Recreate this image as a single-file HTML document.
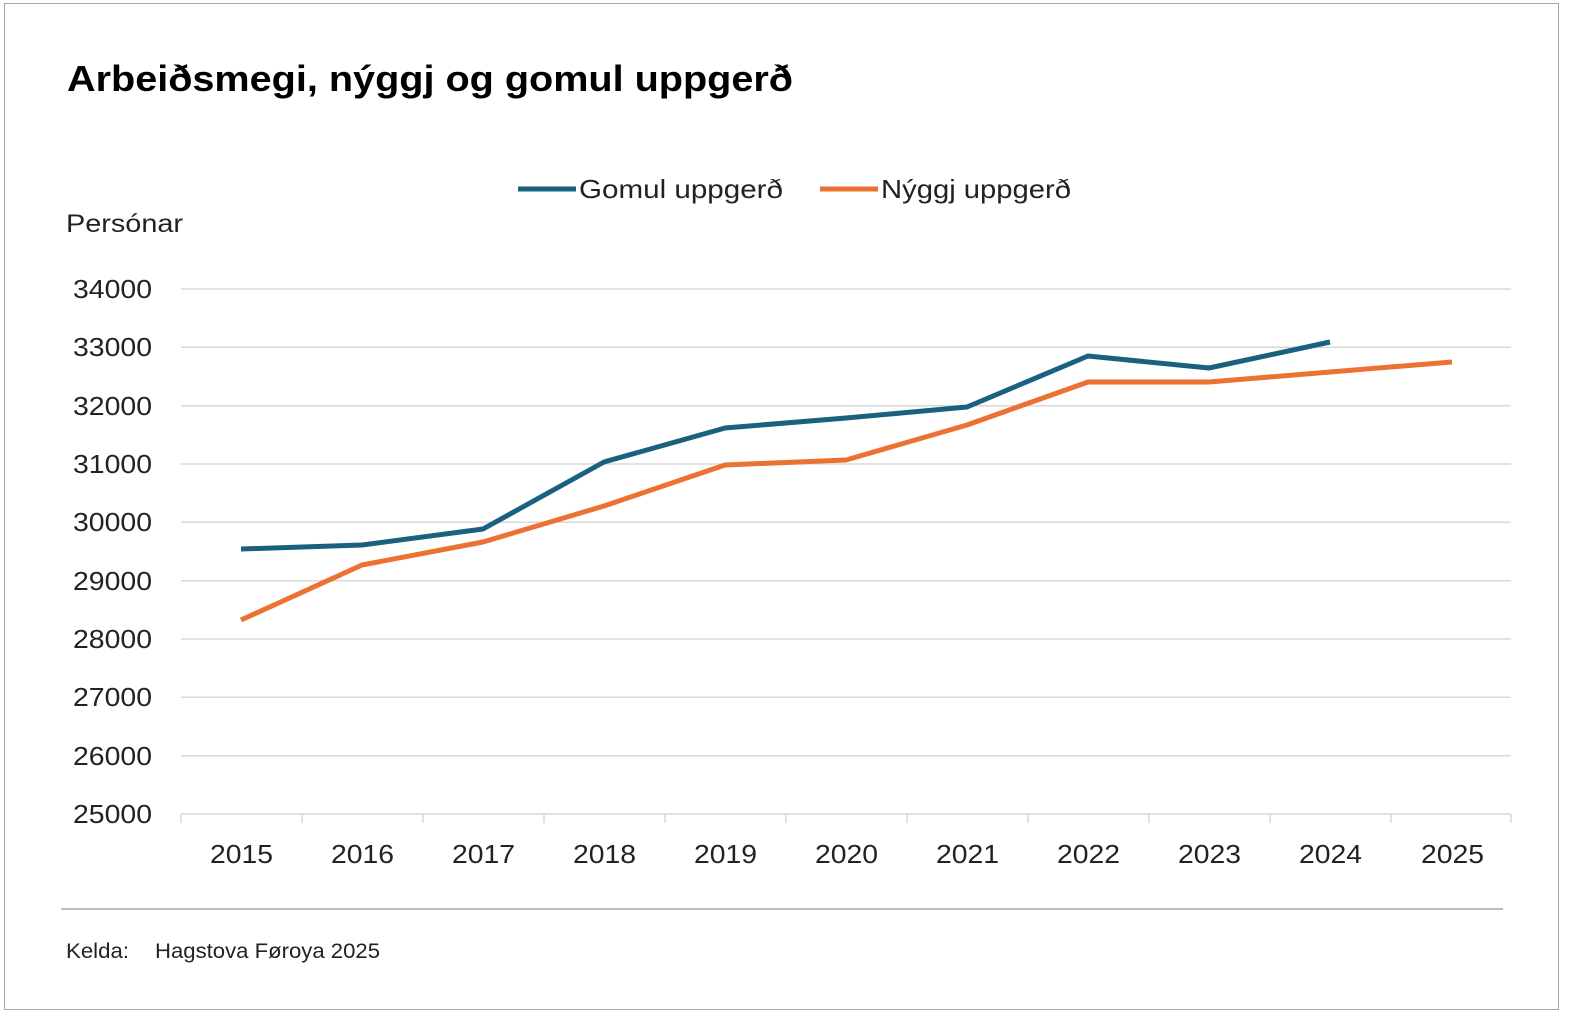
<!DOCTYPE html>
<html><head><meta charset="utf-8"><style>
body{margin:0;background:#fff;}
svg{display:block;font-family:"Liberation Sans",sans-serif;}
</style></head><body>
<svg width="1575" height="1023" viewBox="0 0 1575 1023">
<rect x="4.5" y="3.5" width="1554" height="1006" fill="#fff" stroke="#a6a6a6" stroke-width="1"/>
<text x="67" y="91" font-size="36" font-weight="bold" fill="#000" textLength="726" lengthAdjust="spacingAndGlyphs">Arbeiðsmegi, nýggj og gomul uppgerð</text>
<line x1="518" y1="189" x2="576" y2="189" stroke="#1a607f" stroke-width="5"/>
<text x="579" y="198" font-size="26" fill="#222" textLength="204" lengthAdjust="spacingAndGlyphs">Gomul uppgerð</text>
<line x1="820" y1="189" x2="878" y2="189" stroke="#eb7233" stroke-width="5"/>
<text x="881" y="198" font-size="26" fill="#222" textLength="190" lengthAdjust="spacingAndGlyphs">Nýggj uppgerð</text>
<text x="66" y="232" font-size="25" fill="#222" textLength="117" lengthAdjust="spacingAndGlyphs">Persónar</text>
<g stroke="#d9d9d9" stroke-width="1.5">
<line x1="181" y1="289" x2="1511" y2="289"/><line x1="181" y1="347.3" x2="1511" y2="347.3"/>
<line x1="181" y1="405.7" x2="1511" y2="405.7"/><line x1="181" y1="464" x2="1511" y2="464"/>
<line x1="181" y1="522.3" x2="1511" y2="522.3"/><line x1="181" y1="580.7" x2="1511" y2="580.7"/>
<line x1="181" y1="639" x2="1511" y2="639"/><line x1="181" y1="697.3" x2="1511" y2="697.3"/>
<line x1="181" y1="755.7" x2="1511" y2="755.7"/><line x1="181" y1="814" x2="1511" y2="814"/>
</g>
<g stroke="#d9d9d9" stroke-width="1.5">
<line x1="181" y1="814" x2="181" y2="823"/><line x1="302" y1="814" x2="302" y2="823"/><line x1="423" y1="814" x2="423" y2="823"/><line x1="544" y1="814" x2="544" y2="823"/><line x1="665" y1="814" x2="665" y2="823"/><line x1="786" y1="814" x2="786" y2="823"/><line x1="907" y1="814" x2="907" y2="823"/><line x1="1028" y1="814" x2="1028" y2="823"/><line x1="1149" y1="814" x2="1149" y2="823"/><line x1="1270" y1="814" x2="1270" y2="823"/><line x1="1391" y1="814" x2="1391" y2="823"/><line x1="1511" y1="814" x2="1511" y2="823"/>
</g>
<g font-size="26" fill="#222">
<text x="73" y="298" textLength="79" lengthAdjust="spacingAndGlyphs">34000</text><text x="73" y="356" textLength="79" lengthAdjust="spacingAndGlyphs">33000</text><text x="73" y="415" textLength="79" lengthAdjust="spacingAndGlyphs">32000</text><text x="73" y="473" textLength="79" lengthAdjust="spacingAndGlyphs">31000</text><text x="73" y="531" textLength="79" lengthAdjust="spacingAndGlyphs">30000</text><text x="73" y="590" textLength="79" lengthAdjust="spacingAndGlyphs">29000</text><text x="73" y="648" textLength="79" lengthAdjust="spacingAndGlyphs">28000</text><text x="73" y="706" textLength="79" lengthAdjust="spacingAndGlyphs">27000</text><text x="73" y="765" textLength="79" lengthAdjust="spacingAndGlyphs">26000</text><text x="73" y="823" textLength="79" lengthAdjust="spacingAndGlyphs">25000</text>
</g>
<g font-size="26" fill="#222">
<text x="210" y="863" textLength="63" lengthAdjust="spacingAndGlyphs">2015</text><text x="331" y="863" textLength="63" lengthAdjust="spacingAndGlyphs">2016</text><text x="452" y="863" textLength="63" lengthAdjust="spacingAndGlyphs">2017</text><text x="573" y="863" textLength="63" lengthAdjust="spacingAndGlyphs">2018</text><text x="694" y="863" textLength="63" lengthAdjust="spacingAndGlyphs">2019</text><text x="815" y="863" textLength="63" lengthAdjust="spacingAndGlyphs">2020</text><text x="936" y="863" textLength="63" lengthAdjust="spacingAndGlyphs">2021</text><text x="1057" y="863" textLength="63" lengthAdjust="spacingAndGlyphs">2022</text><text x="1178" y="863" textLength="63" lengthAdjust="spacingAndGlyphs">2023</text><text x="1299" y="863" textLength="63" lengthAdjust="spacingAndGlyphs">2024</text><text x="1421" y="863" textLength="63" lengthAdjust="spacingAndGlyphs">2025</text>
</g>
<polyline fill="none" stroke="#1a607f" stroke-width="5" stroke-linejoin="round" points="241,549 362,545 483,529 604,462 725,428 846,418 967,407 1088,356 1209,368 1330,342"/>
<polyline fill="none" stroke="#eb7233" stroke-width="5" stroke-linejoin="round" points="241,620 362,565 483,542 604,506 725,465 846,460 967,425 1088,382 1209,382 1330,372 1452,362"/>
<line x1="61" y1="909" x2="1503" y2="909" stroke="#a6a6a6" stroke-width="1.5"/>
<text x="66" y="958" font-size="21" fill="#222" textLength="63" lengthAdjust="spacingAndGlyphs">Kelda:</text>
<text x="155" y="958" font-size="21" fill="#222" textLength="225" lengthAdjust="spacingAndGlyphs">Hagstova Føroya 2025</text>
</svg>
</body></html>
